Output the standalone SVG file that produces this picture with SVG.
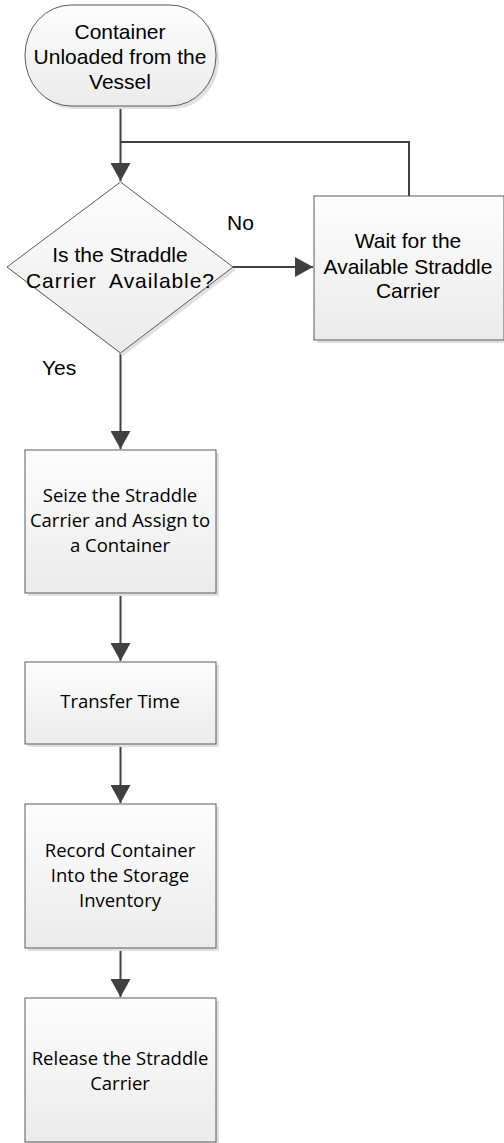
<svg xmlns="http://www.w3.org/2000/svg" width="504" height="1143" viewBox="0 0 504 1143">
<style>
.node{fill:url(#g);stroke:#5a5a5a;stroke-width:1}
.shadow{fill:#e0e0e0}
.conn{fill:none;stroke:#404040;stroke-width:2}
.t1{font-family:"Liberation Sans",Arial,sans-serif;font-size:21px;fill:#000;text-anchor:middle}
.t2{font-family:"Open Sans","Noto Sans",sans-serif;font-size:18.5px;fill:#000;text-anchor:middle}
.lbl{font-family:"Liberation Sans",Arial,sans-serif;font-size:21px;fill:#000}
</style>
<defs>
<linearGradient id="g" x1="0" y1="0" x2="0" y2="1">
<stop offset="0" stop-color="#fdfdfd"/>
<stop offset="1" stop-color="#ebebeb"/>
</linearGradient>
<marker id="ah" markerWidth="20" markerHeight="20" viewBox="0 0 20 20" refX="18" refY="10" orient="auto" markerUnits="userSpaceOnUse">
<path d="M0,0 L18,10 L0,20 Z" fill="#404040"/>
</marker>
</defs>
<g id="connectors">
<path class="conn" d="M120.5,106 V181" marker-end="url(#ah)"/>
<path class="conn" d="M120.5,142 H409 V196"/>
<path class="conn" d="M233,267 H313" marker-end="url(#ah)"/>
<path class="conn" d="M120.5,353 V449" marker-end="url(#ah)"/>
<path class="conn" d="M120.5,593 V661" marker-end="url(#ah)"/>
<path class="conn" d="M120.5,744 V803" marker-end="url(#ah)"/>
<path class="conn" d="M120.5,948 V997" marker-end="url(#ah)"/>
</g>
<g id="start">
<rect class="shadow" x="28" y="8" width="191" height="101" rx="46" ry="50"/>
<rect class="node" x="25" y="5" width="191" height="101" rx="46" ry="50"/>
<text class="t1" x="120" y="39">Container</text>
<text class="t1" x="120" y="64">Unloaded from the</text>
<text class="t1" x="120" y="89">Vessel</text>
</g>
<g id="decision">
<path class="shadow" d="M123,185 L236,270 L123,356 L10,270 Z"/>
<path class="node" d="M120.5,182 L233,267 L120.5,353 L7,267 Z"/>
<text class="t1" x="120" y="262">Is the Straddle</text>
<text class="t1" x="120" y="288" xml:space="preserve" textLength="188" lengthAdjust="spacing">Carrier  Available?</text>
</g>
<g id="labels">
<text class="lbl" x="227" y="230">No</text>
<text class="lbl" x="42" y="375">Yes</text>
</g>
<g id="wait">
<rect class="shadow" x="317" y="199" width="190" height="144"/>
<rect class="node" x="314" y="196" width="190" height="144"/>
<text class="t1" x="408" y="248">Wait for the</text>
<text class="t1" x="408" y="274">Available Straddle</text>
<text class="t1" x="408" y="298">Carrier</text>
</g>
<g id="seize">
<rect class="shadow" x="28" y="453" width="191" height="143"/>
<rect class="node" x="25" y="450" width="191" height="143"/>
<text class="t2" x="120" y="502">Seize the Straddle</text>
<text class="t2" x="120" y="527">Carrier and Assign to</text>
<text class="t2" x="120" y="552">a Container</text>
</g>
<g id="transfer">
<rect class="shadow" x="28" y="665" width="191" height="82"/>
<rect class="node" x="25" y="662" width="191" height="82"/>
<text class="t2" x="120" y="708">Transfer Time</text>
</g>
<g id="record">
<rect class="shadow" x="28" y="807" width="191" height="144"/>
<rect class="node" x="25" y="804" width="191" height="144"/>
<text class="t2" x="120" y="857">Record Container</text>
<text class="t2" x="120" y="882">Into the Storage</text>
<text class="t2" x="120" y="907">Inventory</text>
</g>
<g id="release">
<rect class="shadow" x="28" y="1001" width="191" height="144"/>
<rect class="node" x="25" y="998" width="191" height="144"/>
<text class="t2" x="120" y="1065">Release the Straddle</text>
<text class="t2" x="120" y="1090">Carrier</text>
</g>
</svg>
